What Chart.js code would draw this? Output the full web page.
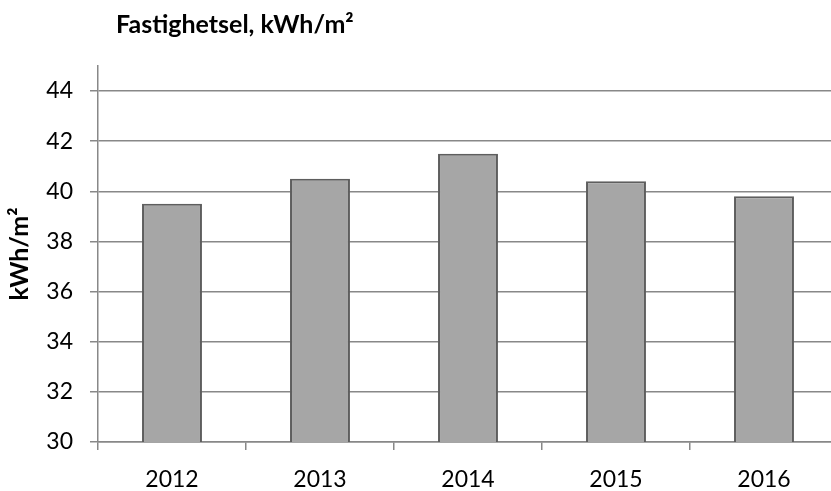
<!DOCTYPE html>
<html>
<head>
<meta charset="utf-8">
<script src="https://cdn.jsdelivr.net/npm/chart.js@4"></script>
<style>
  html, body { margin: 0; padding: 0; background: #fff; overflow: hidden; }
  #wrap { width: 840px; height: 491px; }
</style>
</head>
<body>
<div id="wrap"><canvas id="chart"></canvas></div>
<script>
// data
const years = ['2012', '2013', '2014', '2015', '2016'];
const kwhPerM2 = [39.5, 40.5, 41.5, 40.4, 39.8];
const yTicks = [30, 32, 34, 36, 38, 40, 42, 44];
const chartTitle = 'Fastighetsel, kWh/m²';
const axisTitle = 'kWh/m²';

const FONT = 'Lato';
const gridGray = '#888888';

// title drawn top-left, like the Excel original
const titlePlugin = {
    id: 'leftTitle',
    afterDraw(chart) {
        const ctx = chart.ctx;
        ctx.save();
        ctx.font = 'bold 25px ' + FONT;
        ctx.fillStyle = '#000';
        ctx.textBaseline = 'alphabetic';
        ctx.fillText(chartTitle, 116, 33);
        ctx.restore();
    }
};

new Chart(document.getElementById('chart'), {
    type: 'bar',
    data: {
        labels: years,
        datasets: [{
            data: kwhPerM2,
            backgroundColor: '#a6a6a6',
            borderColor: '#5e5e5e',
            borderWidth: 2,
            categoryPercentage: 1,
            barPercentage: 0.405
        }]
    },
    options: {
        responsive: true,
        maintainAspectRatio: false,
        animation: false,
        layout: { padding: { top: 66, right: 2, left: 0, bottom: 0 } },
        plugins: {
            legend: { display: false },
            tooltip: { enabled: false }
        },
        scales: {
            x: {
                offset: true,
                grid: { drawOnChartArea: false, drawTicks: true, tickLength: 8, color: gridGray, lineWidth: 1.5, offset: true },
                border: { color: gridGray, width: 1.5 },
                ticks: { color: '#000', font: { family: FONT, size: 23 }, padding: 16 },
                afterFit(scale) { scale.height = 49; scale.paddingLeft = 0; scale.paddingRight = 0; }
            },
            y: {
                min: 30,
                max: 45,
                ticks: {
                    autoSkip: false,
                    color: '#000',
                    font: { family: FONT, size: 23 },
                    padding: 17
                },
                afterBuildTicks(scale) { scale.ticks = yTicks.map(v => ({ value: v })); },
                grid: { tickLength: 8, lineWidth: 1.5, color: gridGray },
                border: { color: gridGray, width: 1.5 },
                title: {
                    display: true,
                    text: axisTitle,
                    color: '#000',
                    font: { family: FONT, size: 25, weight: 'bold' },
                    padding: { top: 5, bottom: 0 }
                },
                afterFit(scale) { scale.width = 98; scale.paddingTop = 0; scale.paddingBottom = 0; }
            }
        }
    },
    plugins: [titlePlugin]
});
</script>
</body>
</html>
